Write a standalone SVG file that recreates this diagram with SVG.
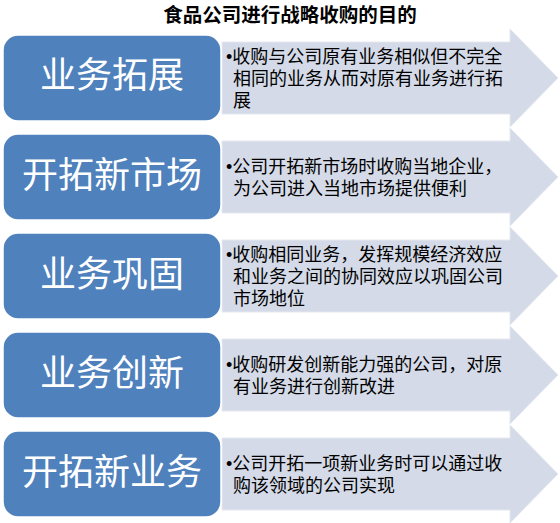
<svg xmlns="http://www.w3.org/2000/svg" width="560" height="523" viewBox="0 0 560 523">
<defs>
<style>
.title{font-family:"Liberation Sans","Noto Sans CJK SC",sans-serif;font-size:19.5px;font-weight:bold;fill:#000;text-anchor:middle}
.box{fill:#4F81BD;stroke:#ffffff;stroke-width:1.5}
.lbl{font-family:"Liberation Sans","Noto Sans CJK SC",sans-serif;font-size:36px;fill:#ffffff;text-anchor:middle}
.arrow{fill:#D4DAE7;stroke:#E4E8F0;stroke-width:1}
.desc{font-family:"Liberation Sans","Noto Sans CJK SC",sans-serif;font-size:18px;fill:#000}
</style>
<path id="arr" class="arrow" d="M222,-36 H510 V-49 L558,0 L510,49 V36 H222 Z"/>
</defs>
<rect width="560" height="523" fill="#ffffff"/>
<text class="title" x="290" y="22">食品公司进行战略收购的目的</text>
<g id="connectors">
<use href="#arr" transform="translate(0,78)"/>
<use href="#arr" transform="translate(0,177)"/>
<use href="#arr" transform="translate(0,276)"/>
<use href="#arr" transform="translate(0,375)"/>
<use href="#arr" transform="translate(0,474)"/>
</g>
<g id="node1">
<rect class="box" x="3" y="35" width="218" height="86" rx="15"/>
<text class="lbl" x="112" y="88">业务拓展</text>
<text class="desc" x="226" y="63">•收购与公司原有业务相似但不完全</text>
<text class="desc" x="233" y="85">相同的业务从而对原有业务进行拓</text>
<text class="desc" x="233" y="107">展</text>
</g>
<g id="node2">
<rect class="box" x="3" y="134" width="218" height="86" rx="15"/>
<text class="lbl" x="112" y="188">开拓新市场</text>
<text class="desc" x="226" y="173">•公司开拓新市场时收购当地企业，</text>
<text class="desc" x="233" y="195">为公司进入当地市场提供便利</text>
</g>
<g id="node3">
<rect class="box" x="3" y="233" width="218" height="86" rx="15"/>
<text class="lbl" x="112" y="287">业务巩固</text>
<text class="desc" x="226" y="261">•收购相同业务，发挥规模经济效应</text>
<text class="desc" x="233" y="283">和业务之间的协同效应以巩固公司</text>
<text class="desc" x="233" y="305">市场地位</text>
</g>
<g id="node4">
<rect class="box" x="3" y="332" width="218" height="86" rx="15"/>
<text class="lbl" x="112" y="386">业务创新</text>
<text class="desc" x="226" y="371">•收购研发创新能力强的公司，对原</text>
<text class="desc" x="233" y="393">有业务进行创新改进</text>
</g>
<g id="node5">
<rect class="box" x="3" y="431" width="218" height="86" rx="15"/>
<text class="lbl" x="112" y="485">开拓新业务</text>
<text class="desc" x="226" y="470">•公司开拓一项新业务时可以通过收</text>
<text class="desc" x="233" y="492">购该领域的公司实现</text>
</g>
</svg>
